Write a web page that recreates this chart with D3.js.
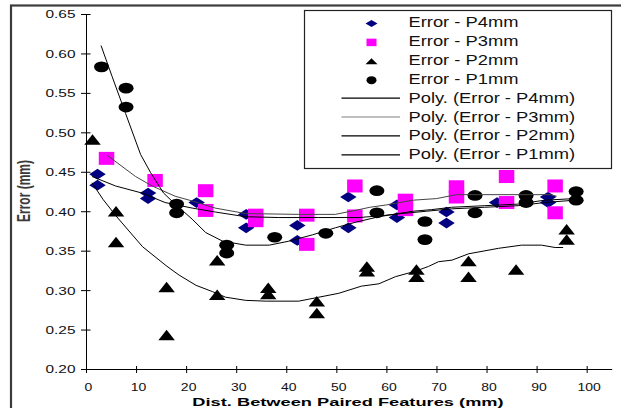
<!DOCTYPE html>
<html lang="en">
<head>
<meta charset="utf-8">
<script src="https://d3js.org/d3.v7.min.js"></script>
<style>
body { margin:0; background:#fff; }
svg { display:block; font-family:"Liberation Sans", Arial, sans-serif; }
</style>
</head>
<body>
<script>
var w = 621, h = 408;

// measured points (distance mm, error)
var p4X = [2.3, 2.3, 12.4, 12.4, 22.1, 32, 32, 42.2, 42.2, 52.4, 52.4, 62.1, 62.1, 72, 72, 82.1, 92.3, 92.3];
var p4Y = [0.447, 0.433, 0.423, 0.416, 0.411, 0.396, 0.379, 0.382, 0.363, 0.418, 0.379, 0.408, 0.392, 0.399, 0.385, 0.411, 0.418, 0.411];

var p3X = [4.1, 13.8, 23.9, 23.9, 33.9, 33.9, 44.1, 44.1, 53.7, 53.7, 63.8, 63.8, 74, 74, 84, 84, 93.7, 93.7];
var p3Y = [0.467, 0.439, 0.426, 0.401, 0.395, 0.388, 0.395, 0.358, 0.432, 0.394, 0.414, 0.402, 0.431, 0.418, 0.444, 0.411, 0.432, 0.398];

var p2X = [1.3, 6, 6, 16.1, 16.1, 26.2, 26.2, 36.4, 36.4, 46.1, 46.1, 56.1, 56.1, 66, 66, 76.4, 76.4, 85.9, 96, 96];
var p2Y = [0.491, 0.400, 0.361, 0.304, 0.243, 0.338, 0.294, 0.303, 0.295, 0.286, 0.271, 0.330, 0.324, 0.326, 0.317, 0.337, 0.317, 0.326, 0.377, 0.364];

var p1X = [3.1, 8, 8, 18.1, 18.1, 28.1, 28.1, 37.7, 47.9, 58.1, 58.1, 67.7, 67.7, 77.7, 77.7, 87.9, 87.9, 97.9, 97.9];
var p1Y = [0.583, 0.556, 0.532, 0.409, 0.398, 0.357, 0.347, 0.367, 0.372, 0.426, 0.398, 0.387, 0.364, 0.420, 0.398, 0.420, 0.411, 0.425, 0.414];

// polynomial trend lines as drawn
var t4X = [1.2, 5.9, 11.2, 15.8, 21.2, 25.8, 31.9, 38.5, 46.5, 54.5, 58.5, 63, 68, 73, 79.6, 86.3, 91.6, 97.6];
var t4Y = [0.444, 0.432, 0.423, 0.411, 0.404, 0.399, 0.393, 0.392, 0.392, 0.392, 0.394, 0.397, 0.400, 0.403, 0.405, 0.407, 0.411, 0.414];

var t3X = [4.2, 9.9, 13.2, 17.8, 21.2, 25.8, 31.9, 42.5, 49.8, 54.5, 56.7, 60, 65.3, 70, 74, 92.7, 94];
var t3Y = [0.471, 0.444, 0.432, 0.419, 0.413, 0.404, 0.397, 0.396, 0.396, 0.402, 0.405, 0.408, 0.414, 0.416, 0.421, 0.421, 0.419];

var t2X = [1.2, 3.4, 6, 11.3, 16, 18.6, 22, 25.3, 27.9, 31.9, 36, 42.5, 46.5, 50.5, 55, 58.5, 61.8, 65.8, 68.4, 70.4, 73.1, 76.4, 82.4, 87, 91, 93.7, 95.3];
var t2Y = [0.436, 0.415, 0.394, 0.355, 0.331, 0.319, 0.306, 0.298, 0.291, 0.287, 0.286, 0.286, 0.291, 0.296, 0.305, 0.308, 0.317, 0.324, 0.330, 0.336, 0.338, 0.346, 0.353, 0.357, 0.357, 0.354, 0.354];

var t1X = [3, 5.2, 7.9, 10.9, 12.9, 15.5, 17.8, 21.2, 23.9, 27.3, 31.9, 36.6, 40.5, 45.2, 49.8, 53.8, 58.5, 65.3, 69, 73, 79.6, 86.3, 91.6, 97.6];
var t1Y = [0.610, 0.571, 0.524, 0.472, 0.449, 0.423, 0.409, 0.390, 0.373, 0.362, 0.357, 0.357, 0.362, 0.370, 0.379, 0.386, 0.393, 0.400, 0.402, 0.405, 0.407, 0.409, 0.414, 0.416];

var xTicks = [0, 10, 20, 30, 40, 50, 60, 70, 80, 90, 100];
var yTicks = [0.20, 0.25, 0.30, 0.35, 0.40, 0.45, 0.50, 0.55, 0.60, 0.65];

var markerLabels = ["Error - P4mm", "Error - P3mm", "Error - P2mm", "Error - P1mm"];
var lineLabels = ["Poly. (Error - P4mm)", "Poly. (Error - P3mm)", "Poly. (Error - P2mm)", "Poly. (Error - P1mm)"];

function zip(xs, ys) { return xs.map(function(d, i) { return [d, ys[i]]; }); }

// key = legend swatch colour, line = colour of the curve in the plot
var series = [
  {pts: zip(p4X, p4Y), trend: zip(t4X, t4Y), shape: "diamond", fill: "#000080", line: "#000", key: "#000"},
  {pts: zip(p3X, p3Y), trend: zip(t3X, t3Y), shape: "square", fill: "#ff00ff", line: "#444", key: "#808080"},
  {pts: zip(p2X, p2Y), trend: zip(t2X, t2Y), shape: "triangle", fill: "#000", line: "#000", key: "#000"},
  {pts: zip(p1X, p1Y), trend: zip(t1X, t1Y), shape: "circle", fill: "#000", line: "#000", key: "#000"}
];

// marker outlines, width / height given separately (the chart is stretched sideways)
function shape(type, sw, sh) {
  var a = sw / 2, b = sh / 2;
  if (type == "diamond") return "M0," + (-b) + "L" + a + ",0L0," + b + "L" + (-a) + ",0Z";
  if (type == "square") return "M" + (-a) + "," + (-b) + "H" + a + "V" + b + "H" + (-a) + "Z";
  if (type == "triangle") return "M0," + (-b) + "L" + a + "," + b + "H" + (-a) + "Z";
  return "M" + (-a) + ",0A" + a + "," + b + " 0 1,0 " + a + ",0A" + a + "," + b + " 0 1,0 " + (-a) + ",0Z";
}
var plotSize = {diamond: [16.5, 10.7], square: [15.5, 13], triangle: [16.5, 10.5], circle: [15, 10.7]};
var keySize = {diamond: [12, 7], square: [10, 7.5], triangle: [12, 6], circle: [10, 8]};

var svg = d3.select("body").append("svg").attr("width", w).attr("height", h);

// outer chart border
svg.append("rect").attr("x", 11).attr("y", 5.5).attr("width", 640).attr("height", 420)
  .attr("fill", "none").attr("stroke", "#3c3c3c").attr("stroke-width", 2.2);

var x = d3.scaleLinear().domain([0, 105]).range([86, 611.7]);
var y = d3.scaleLinear().domain([0.20, 0.65]).range([369, 14]);

// axes
var yAxis = svg.append("g").attr("transform", "translate(86,0)")
  .call(d3.axisLeft(y).tickValues(yTicks).tickFormat(d3.format(".2f")).tickSizeOuter(0));
var xAxis = svg.append("g").attr("transform", "translate(0,369)")
  .call(d3.axisBottom(x).tickValues(xTicks).tickSizeOuter(0));

[yAxis, xAxis].forEach(function(g) {
  g.attr("font-family", null).attr("font-size", null);
  g.select(".domain").attr("stroke", "#000").attr("stroke-width", 1);
  g.selectAll("text").attr("fill", "#111").style("font-size", "11px");
});
yAxis.selectAll(".tick line").attr("x1", 4.5).attr("x2", -5).attr("stroke", "#000");
yAxis.selectAll(".tick text").attr("x", null).attr("dy", "0.36em")
  .attr("transform", "translate(-10.5,0) scale(1.4,1)");
xAxis.selectAll(".tick line").attr("y1", -3).attr("y2", 4).attr("stroke", "#000");
xAxis.selectAll(".tick text").attr("y", null).attr("dy", null)
  .attr("transform", "translate(2,21.5) scale(1.27,1)");

// axis titles
svg.append("text").attr("transform", "translate(348,405.5) scale(1.66,1)")
  .attr("text-anchor", "middle").style("font-size", "11px").style("font-weight", "bold")
  .text("Dist. Between Paired Features (mm)");
svg.append("text").attr("transform", "translate(30,191) scale(1.6,1) rotate(-90)")
  .attr("text-anchor", "middle").attr("fill", "#3a3a3a").style("font-size", "12px").style("font-weight", "bold")
  .text("Error (mm)");

// markers
series.forEach(function(s) {
  var sz = plotSize[s.shape];
  svg.append("g").selectAll("path").data(s.pts).enter().append("path")
    .attr("transform", function(d) { return "translate(" + x(d[0]) + "," + y(d[1]) + ")"; })
    .attr("d", shape(s.shape, sz[0], sz[1]))
    .attr("fill", s.fill);
});

// trend lines on top
var line = d3.line().x(function(d) { return x(d[0]); }).y(function(d) { return y(d[1]); });
series.forEach(function(s) {
  svg.append("path").datum(s.trend).attr("d", line)
    .attr("fill", "none").attr("stroke", s.line).attr("stroke-width", 1);
});

// legend
var lg = svg.append("g");
lg.append("rect").attr("x", 304.5).attr("y", 10.5).attr("width", 307).attr("height", 158)
  .attr("fill", "#fff").attr("stroke", "#222").attr("stroke-width", 1.2);
function rowY(i) { return 22.5 + i * 18.9; }
series.forEach(function(s, i) {
  var sz = keySize[s.shape];
  lg.append("path").attr("transform", "translate(371.5," + (rowY(i) + 1) + ")")
    .attr("d", shape(s.shape, sz[0], sz[1])).attr("fill", s.fill);
  lg.append("text").attr("transform", "translate(408.5," + (rowY(i) + 4.5) + ") scale(1.31,1)")
    .style("font-size", "14px").attr("fill", "#111").text(markerLabels[i]);
});
series.forEach(function(s, j) {
  var i = j + 4;
  lg.append("line").attr("x1", 341.5).attr("x2", 400).attr("y1", rowY(i)).attr("y2", rowY(i))
    .attr("stroke", s.key).attr("stroke-width", 1.2);
  lg.append("text").attr("transform", "translate(408.5," + (rowY(i) + 4.5) + ") scale(1.31,1)")
    .style("font-size", "14px").attr("fill", "#111").text(lineLabels[j]);
});
</script>
</body>
</html>
